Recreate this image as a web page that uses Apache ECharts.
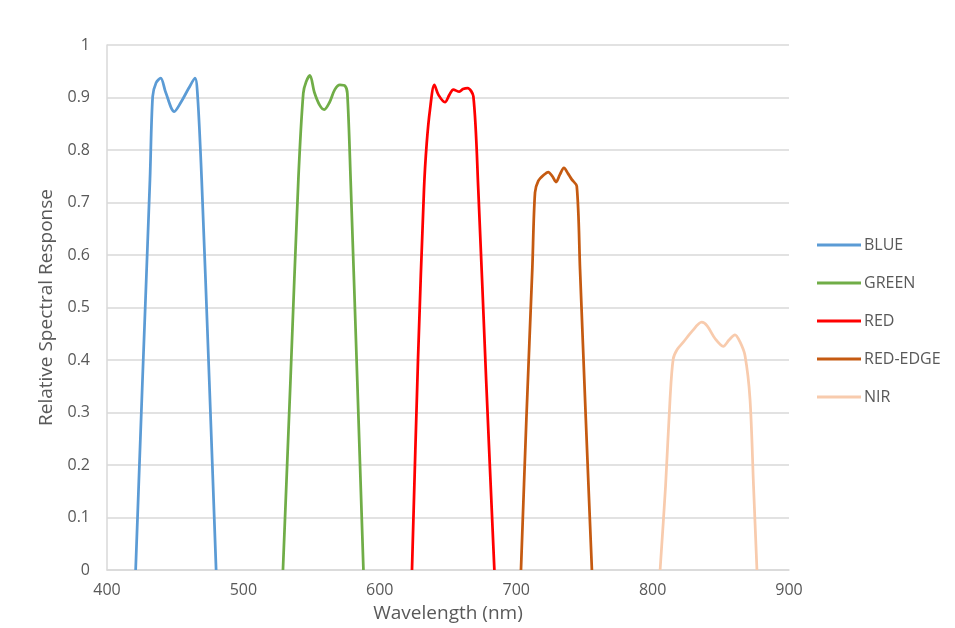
<!DOCTYPE html>
<html>
<head>
<meta charset="utf-8">
<script src="https://cdn.jsdelivr.net/npm/echarts@6/dist/echarts.min.js"></script>
<style>
  html, body { margin: 0; padding: 0; background: #fff; }
  #chart { width: 955px; height: 628px; }
</style>
</head>
<body>
<div id="chart"></div>
<script>
// Band names
const bandNames = ['BLUE', 'GREEN', 'RED', 'RED-EDGE', 'NIR'];

// Relative spectral response per band: [wavelength (nm), response]
const blue = [[421,0],[426,0.36],[431.5,0.744],[433.5,0.902],[436,0.928],[439.4,0.937],[443,0.91],[449.3,0.873],[454,0.89],[460,0.918],[464.5,0.937],[466.5,0.9],[469.4,0.744],[475,0.36],[480,0]];
const green = [[529,0],[534.5,0.36],[540.3,0.744],[543.9,0.908],[546,0.93],[548.8,0.942],[552,0.91],[556,0.885],[559.3,0.877],[563,0.89],[567,0.915],[570.8,0.924],[574.5,0.922],[576.2,0.908],[578.6,0.744],[583.5,0.36],[588,0]];
const red = [[623.6,0],[628,0.4],[632.4,0.725],[634.4,0.813],[636.8,0.877],[640,0.924],[643,0.905],[647.8,0.891],[651,0.905],[653.9,0.915],[658.3,0.911],[661,0.916],[664.4,0.918],[668.6,0.902],[672.2,0.725],[678,0.36],[684,0]];
const redEdge = [[703.5,0],[707.5,0.29],[711.8,0.573],[713.8,0.719],[716.2,0.741],[720,0.752],[723.5,0.758],[726.5,0.75],[729.2,0.739],[732,0.753],[735,0.766],[738,0.755],[740.7,0.744],[744.4,0.731],[746.8,0.573],[751,0.29],[755.5,0]];
const nir = [[805.5,0],[809.5,0.16],[812.8,0.326],[815.1,0.402],[818,0.42],[822.5,0.434],[829,0.455],[836,0.472],[840,0.465],[846,0.44],[851.8,0.426],[856,0.438],[860.4,0.448],[864,0.435],[867.7,0.409],[871.4,0.326],[874,0.16],[876.5,0]];

const bandData = [blue, green, red, redEdge, nir];
const bandColors = ['#5B9BD5', '#70AD47', '#FF0000', '#C55A11', '#F8CBAD'];

const textColor = '#595959';
const fontFamily = '"Open Sans", sans-serif';

const chart = echarts.init(document.getElementById('chart'));
chart.setOption({
  animation: false,
  textStyle: { fontFamily: fontFamily },
  grid: { left: 107, right: 166, top: 45, bottom: 56 },
  legend: {
    orient: 'vertical',
    left: 812,
    top: 232,
    icon: 'rect',
    itemWidth: 44,
    itemHeight: 3,
    itemGap: 22,
    textStyle: { color: textColor, fontSize: 16, fontFamily: fontFamily, padding: [0, 0, 0, -2] },
    data: bandNames
  },
  xAxis: {
    type: 'value',
    min: 400,
    max: 900,
    interval: 100,
    name: 'Wavelength (nm)',
    nameLocation: 'middle',
    nameGap: 34,
    nameTextStyle: { color: textColor, fontSize: 19, fontFamily: fontFamily },
    axisLine: { show: true, lineStyle: { color: '#d9d9d9', width: 1.5 } },
    axisTick: { show: false },
    axisLabel: { color: textColor, fontSize: 16, margin: 12 },
    splitLine: { show: false }
  },
  yAxis: {
    type: 'value',
    min: 0,
    max: 1,
    interval: 0.1,
    name: 'Relative Spectral Response',
    nameLocation: 'middle',
    nameGap: 51,
    nameTextStyle: { color: textColor, fontSize: 19, fontFamily: fontFamily },
    axisLine: { show: true, lineStyle: { color: '#d9d9d9', width: 1.5 } },
    axisTick: { show: false },
    axisLabel: {
      color: textColor,
      fontSize: 16,
      margin: 17,
      formatter: v => String(Math.round(v * 10) / 10)
    },
    splitLine: { show: true, lineStyle: { color: '#d9d9d9', width: 1.5 } }
  },
  series: bandNames.map((name, i) => ({
    name: name,
    type: 'line',
    data: bandData[i],
    smooth: 0.3,
    showSymbol: false,
    symbol: 'none',
    lineStyle: { color: bandColors[i], width: 2.75 },
    itemStyle: { color: bandColors[i] }
  }))
});
</script>
</body>
</html>
